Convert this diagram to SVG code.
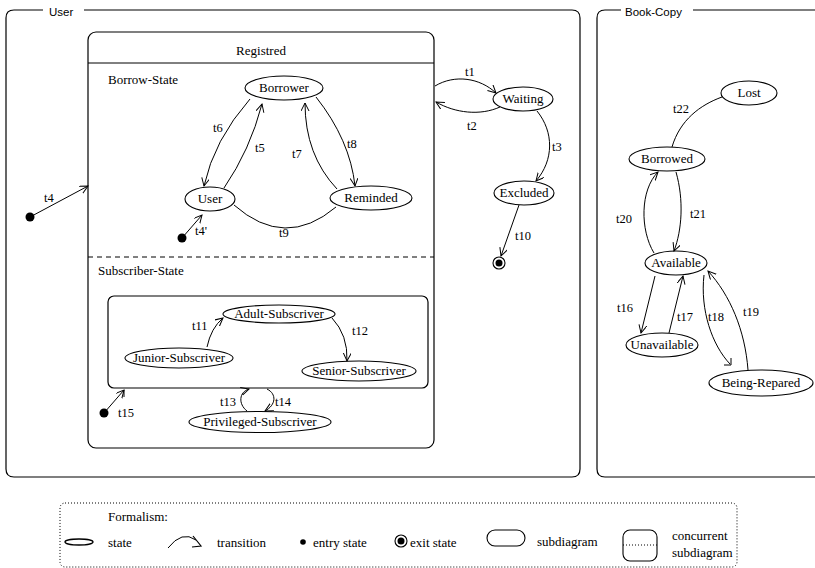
<svg xmlns="http://www.w3.org/2000/svg" width="815" height="568" viewBox="0 0 815 568">
<defs>
<marker id="arr" markerWidth="10" markerHeight="10" refX="8" refY="4" orient="auto" markerUnits="userSpaceOnUse">
<path d="M0,0 L8,4 L0,8" fill="none" stroke="#000" stroke-width="1"/>
</marker>
</defs>
<style>
.fr{fill:none;stroke:#000;stroke-width:1.2}
.st{fill:#fff;stroke:#000;stroke-width:1.1}
.e{fill:none;stroke:#000;stroke-width:1}
.ea{fill:none;stroke:#000;stroke-width:1;marker-end:url(#arr)}
text{font-family:"Liberation Serif","Times New Roman",serif;font-size:12.5px;fill:#000}
.n{font-size:13px}
.lab{font-family:"Liberation Sans",Arial,sans-serif;font-size:11.5px}
.c{text-anchor:middle}
.dot{fill:#000}
</style>
<rect width="815" height="568" fill="#fff"/>

<g id="frame-user">
<path class="fr" d="M43 10 L14 10 Q6 10 6 18 L6 469 Q6 477 14 477 L572 477 Q580 477 580 469 L580 18 Q580 10 572 10 L84 10"/>
<text class="lab" x="49" y="16">User</text>
</g>
<g id="frame-bookcopy">
<path class="fr" d="M621 10 L605 10 Q597 10 597 18 L597 469 Q597 477 605 477 L815 477 M693 10 L815 10"/>
<text class="lab" x="625" y="16">Book-Copy</text>
</g>

<g id="registred">
<rect class="fr" x="88" y="32" width="346" height="416" rx="8"/>
<line class="e" x1="88" y1="63" x2="434" y2="63"/>
<line class="e" x1="88" y1="257" x2="434" y2="257" stroke-dasharray="5 4"/>
<text class="c n" x="261" y="55">Registred</text>
<text class="n" x="108" y="84">Borrow-State</text>
<text class="n" x="98" y="275">Subscriber-State</text>
</g>

<g id="subscriber-sub">
<rect class="fr" x="108" y="296" width="320" height="92" rx="6"/>
</g>

<g id="n-borrower"><ellipse class="st" cx="284" cy="88" rx="39" ry="12"/><text class="c n" x="284" y="92">Borrower</text></g>
<g id="n-user"><ellipse class="st" cx="210" cy="199" rx="25" ry="12"/><text class="c n" x="210" y="203">User</text></g>
<g id="n-reminded"><ellipse class="st" cx="371" cy="198" rx="41" ry="12"/><text class="c n" x="371" y="202">Reminded</text></g>
<g id="n-waiting"><ellipse class="st" cx="523" cy="99" rx="30" ry="12"/><text class="c n" x="523" y="103">Waiting</text></g>
<g id="n-excluded"><ellipse class="st" cx="524" cy="193" rx="30" ry="12"/><text class="c n" x="524" y="197">Excluded</text></g>
<g id="n-adult"><ellipse class="st" cx="279" cy="314" rx="56" ry="9"/><text class="c n" x="279" y="318">Adult-Subscriver</text></g>
<g id="n-junior"><ellipse class="st" cx="179" cy="358" rx="54" ry="10"/><text class="c n" x="179" y="362">Junior-Subscriver</text></g>
<g id="n-senior"><ellipse class="st" cx="359" cy="371" rx="57" ry="10"/><text class="c n" x="359" y="375">Senior-Subscriver</text></g>
<g id="n-privileged"><ellipse class="st" cx="260" cy="422" rx="71" ry="10.5"/><text class="c n" x="260" y="426">Privileged-Subscriver</text></g>
<g id="n-lost"><ellipse class="st" cx="749" cy="93" rx="28" ry="12"/><text class="c n" x="749" y="97">Lost</text></g>
<g id="n-borrowed"><ellipse class="st" cx="667" cy="159" rx="38" ry="12"/><text class="c n" x="667" y="163">Borrowed</text></g>
<g id="n-available"><ellipse class="st" cx="676" cy="263" rx="31" ry="12"/><text class="c n" x="676" y="267">Available</text></g>
<g id="n-unavailable"><ellipse class="st" cx="662" cy="345" rx="36" ry="12"/><text class="c n" x="662" y="349">Unavailable</text></g>
<g id="n-beingrepared"><ellipse class="st" cx="761" cy="383" rx="52" ry="13"/><text class="c n" x="761" y="387">Being-Repared</text></g>

<g id="n-entry-t4"><circle class="dot" cx="30" cy="217" r="4.5"/></g>
<g id="n-entry-t4p"><circle class="dot" cx="182" cy="238" r="4.5"/></g>
<g id="n-entry-t15"><circle class="dot" cx="104" cy="413" r="4.5"/></g>
<g id="n-exit"><circle cx="499" cy="263" r="6" fill="#fff" stroke="#000" stroke-width="1.1"/><circle class="dot" cx="499" cy="263" r="3.5"/></g>

<g id="connectors">
<path class="ea" d="M250 99 Q214 140 204 186"/>
<path class="ea" d="M224 188 Q250 150 262 104"/>
<path class="ea" d="M337 189 Q305 155 305 103"/>
<path class="ea" d="M316 97 Q350 140 355 186"/>
<path class="e" d="M234 205 Q285 250 336 207"/>
<path class="ea" d="M182 238 L202 215"/>
<path class="ea" d="M30 217 L88 186"/>
<path class="ea" d="M435 86 C455 74 480 78 496 93"/>
<path class="ea" d="M500 107 C480 116 455 113 436 102"/>
<path class="ea" d="M537 111 C554 132 554 160 536 181"/>
<path class="ea" d="M519 205 L501 256"/>
<path class="e" d="M672 147 C680 120 700 105 722 97"/>
<path class="ea" d="M654 253 C640 230 640 190 658 172"/>
<path class="ea" d="M676 172 C684 200 682 230 674 251"/>
<path class="ea" d="M655 276 L641 333"/>
<path class="ea" d="M669 333 L683 276"/>
<path class="e" d="M704 275 C700 310 712 345 730 364 M724 365 L731 365 L731 358"/>
<path class="ea" d="M748 370 C745 330 730 295 708 271"/>
<path class="ea" d="M207 347 Q211 328 223 318"/>
<path class="ea" d="M332 318 Q348 335 347 361"/>
<path class="ea" d="M104 413 L124 390"/>
<path class="e" d="M124 390 L124 397"/>
<path class="ea" d="M247 411 C238 404 239 392 249 389"/>
<path class="ea" d="M267 389 C277 394 276 405 265 411"/>
<text x="213" y="132">t6</text>
<text x="255" y="152">t5</text>
<text x="292" y="158">t7</text>
<text x="347" y="148">t8</text>
<text x="279" y="237">t9</text>
<text x="195" y="235">t4'</text>
<text x="44" y="202">t4</text>
<text x="465" y="76">t1</text>
<text x="467" y="130">t2</text>
<text x="552" y="151">t3</text>
<text x="515" y="240">t10</text>
<text x="673" y="113">t22</text>
<text x="616" y="223">t20</text>
<text x="690" y="218">t21</text>
<text x="617" y="312">t16</text>
<text x="677" y="321">t17</text>
<text x="708" y="321">t18</text>
<text x="743" y="316">t19</text>
<text x="192" y="330">t11</text>
<text x="352" y="335">t12</text>
<text x="220" y="406">t13</text>
<text x="275" y="406">t14</text>
<text x="118" y="417">t15</text>
</g>

<g id="legend">
<rect x="60" y="503" width="677" height="64" rx="5" fill="none" stroke="#000" stroke-width="1" stroke-dasharray="1 2"/>
<text class="n" x="108" y="521">Formalism:</text>
<ellipse cx="79" cy="542" rx="14" ry="3" fill="none" stroke="#000" stroke-width="1.3"/>
<text class="n" x="108" y="547">state</text>
<path d="M168 548 Q182 530 196 540" fill="none" stroke="#000" stroke-width="1"/>
<path d="M193 536 L201 546 L192 547" fill="none" stroke="#000" stroke-width="1.2"/>
<text class="n" x="217" y="547">transition</text>
<circle class="dot" cx="303" cy="542" r="2.8"/>
<text class="n" x="313" y="547">entry state</text>
<circle cx="401" cy="541" r="6" fill="#fff" stroke="#000" stroke-width="1.1"/>
<circle class="dot" cx="401" cy="541" r="3.5"/>
<text class="n" x="410" y="547">exit state</text>
<rect x="487" y="530" width="38" height="16" rx="8" fill="none" stroke="#000" stroke-width="1.1"/>
<text class="n" x="537" y="546">subdiagram</text>
<rect x="623" y="530" width="34" height="31" rx="7" fill="none" stroke="#000" stroke-width="1.1"/>
<line x1="623" y1="545" x2="657" y2="545" stroke="#000" stroke-width="1" stroke-dasharray="1 2"/>
<text class="n" x="672" y="540">concurrent</text>
<text class="n" x="672" y="557">subdiagram</text>
</g>
</svg>
